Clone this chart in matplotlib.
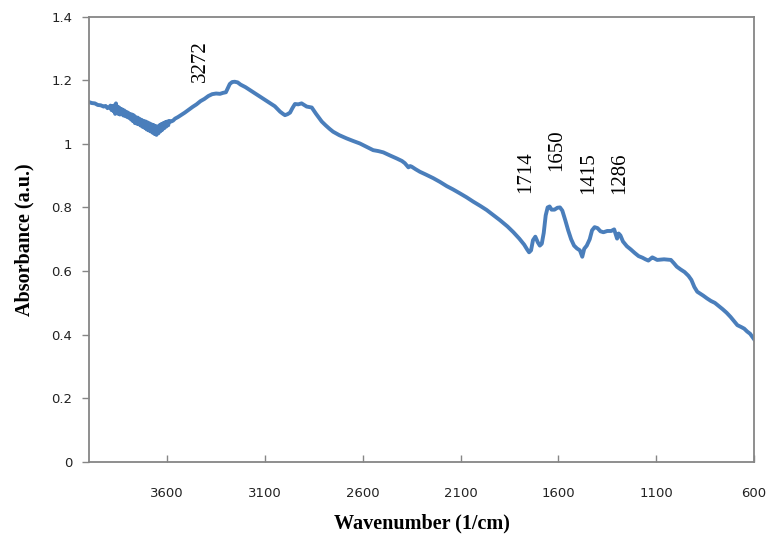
# FTIR absorbance spectrum with labelled band positions
import matplotlib
matplotlib.use('Agg')
from matplotlib import pyplot as plt

# wavenumber (1/cm) and absorbance (a.u.)
wavenumber = [4000, 3985, 3970, 3955, 3940, 3925, 3915, 3905, 3895,
              3890, 3885, 3880, 3875, 3870, 3866, 3862, 3858, 3854, 3850,
              3846, 3842, 3838, 3834, 3830, 3825, 3820, 3815, 3810, 3805,
              3800, 3795, 3790, 3785, 3780, 3775, 3770, 3765, 3760, 3755,
              3750, 3745, 3740, 3735, 3730, 3725, 3720, 3715, 3710, 3705,
              3700, 3695, 3690, 3685, 3680, 3675, 3670, 3665, 3660, 3655,
              3650, 3645, 3640, 3635, 3630, 3625, 3620, 3615, 3610, 3605,
              3600, 3595, 3590, 3580, 3570, 3560,
              3545, 3530, 3510, 3490, 3470, 3450, 3430, 3410, 3390, 3370,
              3350, 3330, 3315, 3300, 3290, 3280, 3268, 3255, 3240, 3225,
              3200, 3175, 3150, 3125, 3100, 3075, 3050, 3023, 3008, 2998,
              2985, 2972, 2960, 2947, 2930, 2913, 2900, 2887, 2861, 2840,
              2810, 2790, 2770, 2752, 2720, 2683, 2650, 2615, 2580, 2547,
              2520, 2495, 2460, 2427, 2400, 2385, 2375, 2367, 2358, 2350,
              2330, 2308, 2280, 2240, 2205, 2171, 2140, 2103, 2070, 2035,
              2000, 1967, 1935, 1899, 1860, 1830, 1800, 1775, 1760,
              1750, 1740, 1730, 1718, 1705, 1695, 1685, 1675, 1665, 1655,
              1645, 1635, 1620, 1605, 1592, 1580, 1565, 1550, 1535, 1520,
              1505, 1490, 1478, 1468, 1455, 1440, 1428, 1415, 1400, 1385,
              1370, 1350, 1330, 1315, 1305, 1300, 1292, 1283, 1270, 1250,
              1230, 1210, 1190, 1170, 1155, 1140, 1130, 1120, 1110, 1095,
              1080, 1060, 1040, 1025, 1010, 995, 975, 955, 935, 920,
              905, 890, 875, 860, 840, 820, 800, 780, 760, 740,
              720, 700, 685, 665, 650, 635, 620, 605, 600]
absorbance = [1.131, 1.128, 1.127, 1.122, 1.121, 1.117, 1.119, 1.112, 1.116,
              1.120, 1.106, 1.118, 1.102, 1.121, 1.094, 1.127, 1.097, 1.117, 1.094,
              1.114, 1.092, 1.110, 1.096, 1.108, 1.089, 1.105, 1.087, 1.101, 1.084,
              1.098, 1.081, 1.094, 1.076, 1.092, 1.071, 1.089, 1.065, 1.084, 1.063,
              1.082, 1.061, 1.078, 1.057, 1.075, 1.053, 1.072, 1.050, 1.070, 1.045,
              1.067, 1.042, 1.064, 1.039, 1.061, 1.035, 1.059, 1.031, 1.056, 1.028,
              1.054, 1.033, 1.058, 1.039, 1.062, 1.044, 1.065, 1.049, 1.068, 1.054,
              1.070, 1.058, 1.072, 1.070, 1.073, 1.079,
              1.084, 1.090, 1.098, 1.107, 1.116, 1.124, 1.134, 1.141, 1.150, 1.156,
              1.158, 1.157, 1.160, 1.162, 1.175, 1.188, 1.194, 1.195, 1.193, 1.186,
              1.178, 1.168, 1.158, 1.148, 1.138, 1.128, 1.118, 1.101, 1.094, 1.090,
              1.093, 1.098, 1.112, 1.125, 1.124, 1.127, 1.122, 1.117, 1.114, 1.095,
              1.070, 1.058, 1.047, 1.038, 1.027, 1.017, 1.009, 1.001, 0.990, 0.980,
              0.977, 0.973, 0.963, 0.954, 0.946, 0.939, 0.932, 0.926, 0.930, 0.928,
              0.920, 0.912, 0.904, 0.892, 0.880, 0.867, 0.857, 0.844, 0.832, 0.818,
              0.805, 0.792, 0.777, 0.760, 0.740, 0.722, 0.702, 0.683, 0.668,
              0.659, 0.665, 0.697, 0.708, 0.690, 0.680, 0.686, 0.720, 0.775, 0.800,
              0.803, 0.793, 0.793, 0.799, 0.800, 0.790, 0.760, 0.728, 0.700, 0.680,
              0.671, 0.665, 0.645, 0.670, 0.680, 0.700, 0.728, 0.738, 0.735, 0.725,
              0.722, 0.726, 0.726, 0.731, 0.712, 0.702, 0.718, 0.712, 0.693, 0.678,
              0.668, 0.657, 0.647, 0.642, 0.637, 0.633, 0.638, 0.643, 0.640, 0.635,
              0.636, 0.637, 0.636, 0.635, 0.625, 0.614, 0.605, 0.597, 0.585, 0.572,
              0.550, 0.535, 0.529, 0.523, 0.514, 0.506, 0.500, 0.490, 0.480, 0.469,
              0.456, 0.441, 0.430, 0.424, 0.419, 0.410, 0.403, 0.390, 0.386]

# band labels and where they sit (x in 1/cm, bottom of text in a.u.)
peak_labels = ['3272', '1714', '1650', '1415', '1286']
label_x = [3432, 1766, 1607, 1444, 1285]
label_y = [1.194, 0.845, 0.915, 0.842, 0.842]

x_ticks = [3600, 3100, 2600, 2100, 1600, 1100, 600]
y_ticks = [0, 0.2, 0.4, 0.6, 0.8, 1, 1.2, 1.4]

fig = plt.figure(figsize=(7.69, 5.38), dpi=100)
ax = fig.add_axes([0.1157, 0.1413, 0.8648, 0.828])

ax.plot(wavenumber, absorbance, color='#4a7ebb', linewidth=2.8, solid_joinstyle='round')

for txt, lx, ly in zip(peak_labels, label_x, label_y):
    ax.text(lx, ly, txt, rotation=90, ha='center', va='bottom',
            fontsize=15, family='Liberation Serif')

ax.set_xlim(4000, 600)
ax.set_ylim(0, 1.4)
ax.set_xticks(x_ticks)
ax.set_yticks(y_ticks)
ax.set_yticklabels(['0', '0.2', '0.4', '0.6', '0.8', '1', '1.2', '1.4'])

for s in ax.spines.values():
    s.set_color('#868686')
    s.set_linewidth(1.3)

ax.tick_params(axis='x', direction='in', length=5, width=1.0, color='#868686',
               pad=18, labelsize=9.5, labelcolor='#222222')
ax.tick_params(axis='y', direction='out', length=5, width=1.0, color='#868686',
               pad=7, labelsize=9.5, labelcolor='#222222')

ax.set_xlabel('Wavenumber (1/cm)', family='Liberation Serif', fontweight='bold',
              fontsize=14.5, labelpad=10)
ax.set_ylabel('Absorbance (a.u.)', family='Liberation Serif', fontweight='bold',
              fontsize=14.5, labelpad=12)

plt.savefig('out.png', dpi=100)
